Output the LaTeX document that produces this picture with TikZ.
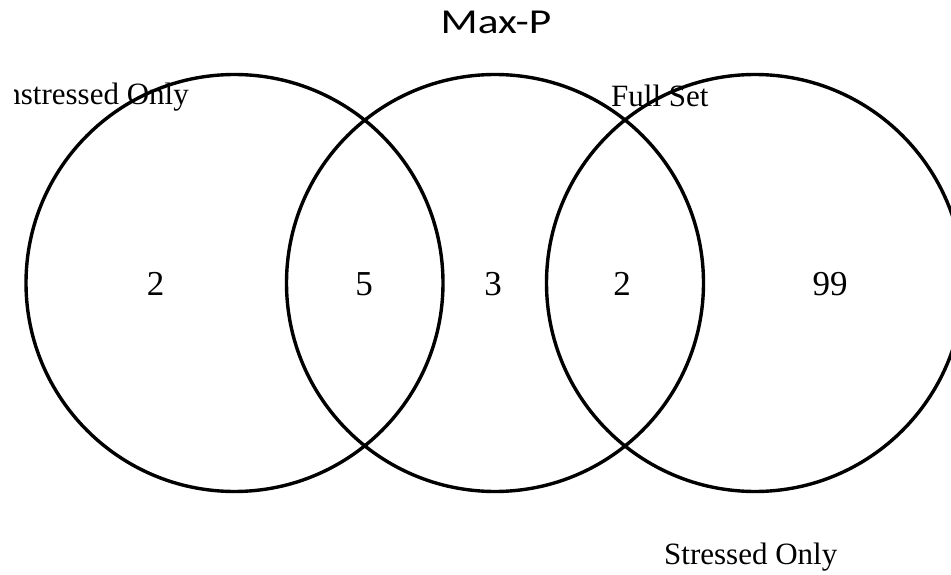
\documentclass[tikz,border=0pt]{standalone}
\usepackage{fontspec}
\setmainfont{Liberation Serif}
\newfontfamily\titlefont{Carlito}
\begin{document}
\begin{tikzpicture}[x=1pt,y=-1pt,
  setcircle/.style={draw=black,line width=3.4pt},
  lbl/.style={inner sep=0pt,font=\fontsize{31}{31}\selectfont},
  num/.style={inner sep=0pt,anchor=base,font=\fontsize{35}{35}\selectfont}]
\useasboundingbox (0,0) rectangle (951,575);
\clip (0,0) rectangle (951,575);
\node[inner sep=0pt,anchor=base,xscale=1.24,font=\titlefont\fontsize{35}{35}\selectfont] (title) at (496,34) {Max-P};
\draw[setcircle] (234.5,283) circle[radius=208.5];
\draw[setcircle] (495,283) circle[radius=208.5];
\draw[setcircle] (755,283) circle[radius=208.5];
\begin{scope}
  \clip (14,60) rectangle (300,130);
  \node[lbl,anchor=base east] (unstr) at (189,105) {Unstressed Only};
\end{scope}
\node[lbl,anchor=base west] (full) at (611,107) {Full Set};
\node[lbl,anchor=base west] (str) at (664,564) {Stressed Only};
\node[num] (n1) at (155.5,295) {2};
\node[num] (n2) at (364,295) {5};
\node[num] (n3) at (493,295) {3};
\node[num] (n4) at (622,295) {2};
\node[num] (n5) at (830,295) {99};
\end{tikzpicture}
\end{document}
